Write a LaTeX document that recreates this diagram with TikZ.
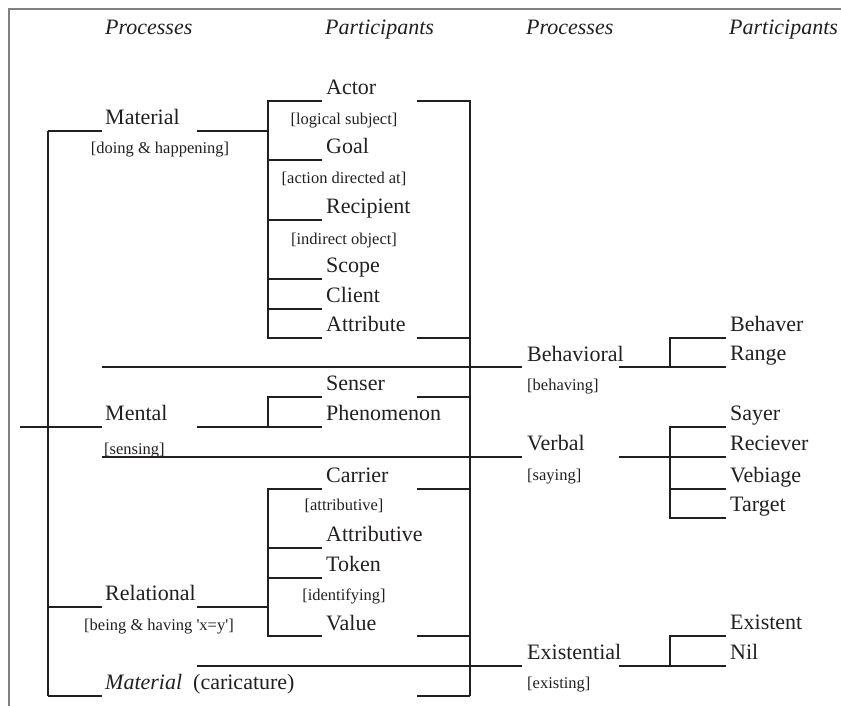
\documentclass[tikz,border=0pt]{standalone}
\usepackage{fontspec}
\setmainfont{Liberation Serif}
\definecolor{ink}{HTML}{231F20}
\definecolor{framegray}{HTML}{808080}
\begin{document}
\begin{tikzpicture}[x=1pt,y=-1pt,
  big/.style={font=\fontsize{22}{26}\selectfont, text=ink, inner sep=0pt, anchor=base west},
  hd/.style={big, font=\fontsize{22}{26}\selectfont\itshape},
  small/.style={font=\fontsize{16.5}{19}\selectfont, text=ink, inner sep=0pt, anchor=base west},
  smallc/.style={small, anchor=base},
  ln/.style={draw=ink, line width=2pt},
  frame/.style={draw=framegray, line width=1.5pt}]
\useasboundingbox (0,0) rectangle (841,706);

% frame (cut by the picture's edges)
\coordinate (fBL) at (9,706); \coordinate (fTL) at (9,9); \coordinate (fTR) at (841,9);
\draw[frame] (fBL) -- (fTL) -- (fTR);

% headers
\node[hd] (h1) at (105,35) {Processes};
\node[hd] (h2) at (325,35) {Participants};
\node[hd] (h3) at (526,35) {Processes};
\node[hd] (h4) at (729,35) {Participants};

% ---------- left trunk ----------
\coordinate (trT) at (48,131); \coordinate (trB) at (48,696);
\coordinate (rootL) at (20,427); \coordinate (rootR) at (102,427);
\draw[ln] (trT) -- (trB);
\draw[ln] (rootL) -- (rootR);

% Material
\coordinate (matA) at (102,131); \coordinate (matB) at (197,131); \coordinate (matC) at (268,131);
\draw[ln] (trT) -- (matA);
\draw[ln] (matB) -- (matC);
\node[big] (material) at (105,124.5) {Material};
\node[smallc] (materialS) at (160,154) {[doing \& happening]};

% participant bracket of Material
\coordinate (acL) at (268,101); \coordinate (acR) at (322,101);
\coordinate (atL) at (268,338); \coordinate (atR) at (322,338);
\draw[ln] (acR) -- (acL) -- (atL) -- (atR);
\foreach \n/\y in {go/160, re/220, sc/279, cl/309} {
  \coordinate (\n L) at (268,\y); \coordinate (\n R) at (322,\y);
  \draw[ln] (\n L) -- (\n R);
}
\node[big] (actor) at (326,95) {Actor};
\node[smallc] (actorS) at (344,125) {[logical subject]};
\node[big] (goal) at (326,153.5) {Goal};
\node[smallc] (goalS) at (344,184) {[action directed at]};
\node[big] (recipient) at (326,213.5) {Recipient};
\node[smallc] (recipientS) at (344,244) {[indirect object]};
\node[big] (scope) at (326,272.5) {Scope};
\node[big] (client) at (326,302.5) {Client};
\node[big] (attribute) at (326,331.5) {Attribute};

% right vertical and its stubs
\coordinate (rvT) at (470,101); \coordinate (rvB) at (470,696);
\coordinate (s1) at (417,101);
\draw[ln] (s1) -- (rvT) -- (rvB);
\foreach \n/\y in {s2/338, s3/397, s4/489, s5/636, s6/696} {
  \coordinate (\n L) at (417,\y); \coordinate (\n R) at (470,\y);
  \draw[ln] (\n L) -- (\n R);
}

% ---------- Behavioral ----------
\coordinate (beA) at (102,367); \coordinate (beB) at (522,367);
\draw[ln] (beA) -- (beB);
\node[big] (behavioral) at (527,361) {Behavioral};
\node[small] (behavioralS) at (527,390) {[behaving]};
\coordinate (beC) at (619,367); \coordinate (beJ) at (670,367); \coordinate (beD) at (726,367);
\coordinate (bhL) at (670,338); \coordinate (bhR) at (726,338);
\draw[ln] (beC) -- (beD);
\draw[ln] (bhR) -- (bhL) -- (beJ);
\node[big] (behaver) at (730,331.5) {Behaver};
\node[big] (range) at (730,360.5) {Range};

% ---------- Mental ----------
\coordinate (meB) at (197,427); \coordinate (meJ) at (268,427); \coordinate (meC) at (322,427);
\coordinate (seL) at (268,397); \coordinate (seR) at (322,397);
\draw[ln] (meB) -- (meC);
\draw[ln] (seR) -- (seL) -- (meJ);
\node[big] (mental) at (105,420.5) {Mental};
\node[small] (mentalS) at (104,454) {[sensing]};
\node[big] (senser) at (326,390.5) {Senser};
\node[big] (phenomenon) at (326,420.5) {Phenomenon};

% ---------- Verbal ----------
\coordinate (veA) at (102,457); \coordinate (veB) at (522,457);
\draw[ln] (veA) -- (veB);
\node[big] (verbal) at (527,450) {Verbal};
\node[small] (verbalS) at (527,480) {[saying]};
\coordinate (veC) at (619,457); \coordinate (veD) at (726,457);
\coordinate (syL) at (670,427); \coordinate (syR) at (726,427);
\coordinate (tgL) at (670,518); \coordinate (tgR) at (726,518);
\coordinate (vbL) at (670,489); \coordinate (vbR) at (726,489);
\draw[ln] (veC) -- (veD);
\draw[ln] (syR) -- (syL) -- (tgL) -- (tgR);
\draw[ln] (vbL) -- (vbR);
\node[big] (sayer) at (730,420.5) {Sayer};
\node[big] (reciever) at (730,450) {Reciever};
\node[big] (vebiage) at (730,482.5) {Vebiage};
\node[big] (target) at (730,511.5) {Target};

% ---------- Relational ----------
\coordinate (rlA) at (48,607); \coordinate (rlA2) at (102,607);
\coordinate (rlB) at (197,607); \coordinate (rlJ) at (268,607);
\draw[ln] (rlA) -- (rlA2);
\draw[ln] (rlB) -- (rlJ);
\coordinate (caL) at (268,489); \coordinate (caR) at (322,489);
\coordinate (vaL) at (268,636); \coordinate (vaR) at (322,636);
\draw[ln] (caR) -- (caL) -- (vaL) -- (vaR);
\foreach \n/\y in {ab/548, tk/578} {
  \coordinate (\n L) at (268,\y); \coordinate (\n R) at (322,\y);
  \draw[ln] (\n L) -- (\n R);
}
\node[big] (relational) at (105,600.5) {Relational};
\node[smallc] (relationalS) at (159,630.5) {[being \& having \textquotesingle x=y\textquotesingle]};
\node[big] (carrier) at (326,482.5) {Carrier};
\node[smallc] (carrierS) at (344,510) {[attributive]};
\node[big] (attributive) at (326,541.5) {Attributive};
\node[big] (token) at (326,571) {Token};
\node[smallc] (tokenS) at (344,600) {[identifying]};
\node[big] (value) at (326,630) {Value};

% ---------- Material (caricature) / Existential ----------
\coordinate (mcA) at (102,696);
\draw[ln] (trB) -- (mcA);
\node[big] (caricature) at (105,689.5) {\textit{Material}\hspace{0.5em}(caricature)};
\coordinate (exA) at (197,666); \coordinate (exB) at (522,666);
\draw[ln] (exA) -- (exB);
\node[big] (existential) at (527,659.5) {Existential};
\node[small] (existentialS) at (527,688) {[existing]};
\coordinate (exC) at (619,666); \coordinate (exJ) at (670,666); \coordinate (exD) at (726,666);
\coordinate (etL) at (670,636); \coordinate (etR) at (726,636);
\draw[ln] (exC) -- (exD);
\draw[ln] (etR) -- (etL) -- (exJ);
\node[big] (existent) at (730,629.5) {Existent};
\node[big] (nil) at (730,659.5) {Nil};
\end{tikzpicture}
\end{document}
